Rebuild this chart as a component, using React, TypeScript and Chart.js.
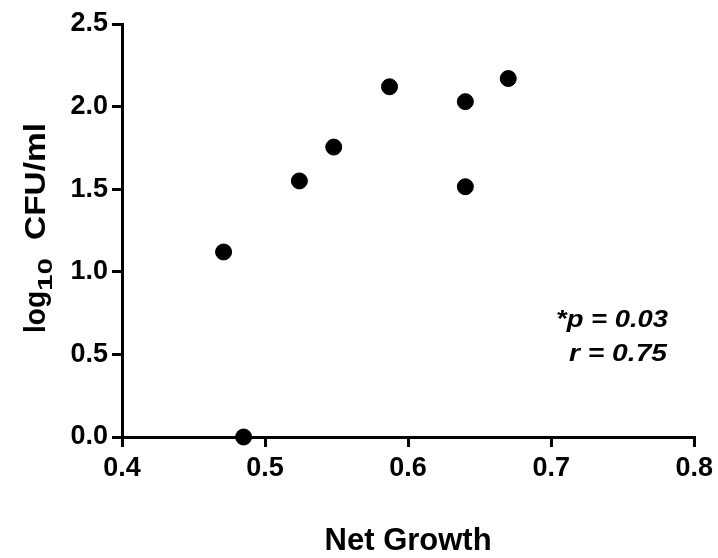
import React, { useEffect, useRef } from "react";
import { Chart, registerables } from "chart.js";

Chart.register(...registerables);

const netGrowth = [0.471, 0.485, 0.524, 0.548, 0.587, 0.640, 0.640, 0.670];
const logCfu = [1.12, 0.0, 1.55, 1.755, 2.12, 2.03, 1.515, 2.17];
const xTicks = [0.4, 0.5, 0.6, 0.7, 0.8];
const yTicks = [0.0, 0.5, 1.0, 1.5, 2.0, 2.5];
const xTitle = "Net Growth";
const yTitleParts = ["log", "10", "CFU/ml"];
const statsLines = ["*p = 0.03", "r = 0.75"];

const FAMILY = '"Liberation Sans", Arial, Helvetica, sans-serif';

function drawFitted(
  ctx: CanvasRenderingContext2D,
  text: string,
  font: string,
  x: number,
  y: number,
  len: number,
  rotate: boolean
) {
  ctx.save();
  ctx.font = font;
  ctx.textAlign = "left";
  ctx.textBaseline = "alphabetic";
  const w = ctx.measureText(text).width;
  ctx.translate(x, y);
  if (rotate) ctx.rotate(-Math.PI / 2);
  ctx.scale(len / w, 1);
  ctx.fillText(text, 0, 0);
  ctx.restore();
}

const textPlugin = {
  id: "customText",
  afterDraw(chart: any) {
    const ctx = chart.ctx as CanvasRenderingContext2D;
    ctx.save();
    ctx.fillStyle = "#000";
    // Y axis title (rotated) with subscript
    drawFitted(ctx, yTitleParts[0], `bold 29px ${FAMILY}`, 45, 333, 42, true);
    drawFitted(ctx, yTitleParts[1], `bold 20px ${FAMILY}`, 52, 291, 33, true);
    drawFitted(ctx, yTitleParts[2], `bold 29px ${FAMILY}`, 45, 240, 117, true);
    // X axis title
    const cx = (chart.chartArea.left + chart.chartArea.right) / 2;
    drawFitted(ctx, xTitle, `bold 31px ${FAMILY}`, cx - 167 / 2, 550, 167, false);
    // stats annotation
    drawFitted(ctx, statsLines[0], `italic bold 24px ${FAMILY}`, 556, 327, 112, false);
    drawFitted(ctx, statsLines[1], `italic bold 24px ${FAMILY}`, 569, 361, 98, false);
    ctx.restore();
  },
};

export default function App() {
  const ref = useRef<HTMLCanvasElement | null>(null);
  useEffect(() => {
    if (!ref.current) return;
    const points = netGrowth.map((x, i) => ({ x, y: logCfu[i] }));
    const tickFont = { family: FAMILY, size: 27, weight: "bold" as const };
    const chart = new Chart(ref.current, {
      type: "scatter",
      data: {
        datasets: [
          {
            data: points,
            backgroundColor: "#000",
            borderColor: "#000",
            pointRadius: 8,
            pointBorderWidth: 1,
            pointHoverRadius: 8,
            clip: false as any,
          },
        ],
      },
      options: {
        responsive: false,
        animation: false,
        events: [],
        layout: { padding: { left: 0, right: 22, top: 24, bottom: 0 } },
        plugins: { legend: { display: false }, tooltip: { enabled: false } },
        scales: {
          x: {
            type: "linear",
            min: xTicks[0],
            max: xTicks[xTicks.length - 1],
            afterBuildTicks: (s: any) => {
              s.ticks = xTicks.map((v) => ({ value: v }));
            },
            afterFit: (s: any) => {
              s.height = 121;
            },
            ticks: {
              color: "#000",
              font: tickFont,
              padding: 5,
              maxRotation: 0,
              callback: (v: any) => Number(v).toFixed(1),
            },
            grid: {
              drawOnChartArea: false,
              drawTicks: true,
              tickLength: 10,
              color: "#000",
              lineWidth: 3,
            },
            border: { color: "#000", width: 3 },
          },
          y: {
            type: "linear",
            min: yTicks[0],
            max: yTicks[yTicks.length - 1],
            afterBuildTicks: (s: any) => {
              s.ticks = yTicks.map((v) => ({ value: v }));
            },
            afterFit: (s: any) => {
              s.width = 122;
            },
            ticks: {
              color: "#000",
              font: tickFont,
              padding: 4,
              callback: (v: any) => Number(v).toFixed(1),
            },
            grid: {
              drawOnChartArea: false,
              drawTicks: true,
              tickLength: 10,
              color: "#000",
              lineWidth: 3,
            },
            border: { color: "#000", width: 3 },
          },
        },
      },
      plugins: [textPlugin],
    });
    return () => chart.destroy();
  }, []);
  return (
    <div style={{ position: "fixed", left: 0, top: 0, width: 718, height: 558, background: "#fff" }}>
      <canvas ref={ref} width={718} height={558} style={{ width: 718, height: 558, display: "block" }} />
    </div>
  );
}
